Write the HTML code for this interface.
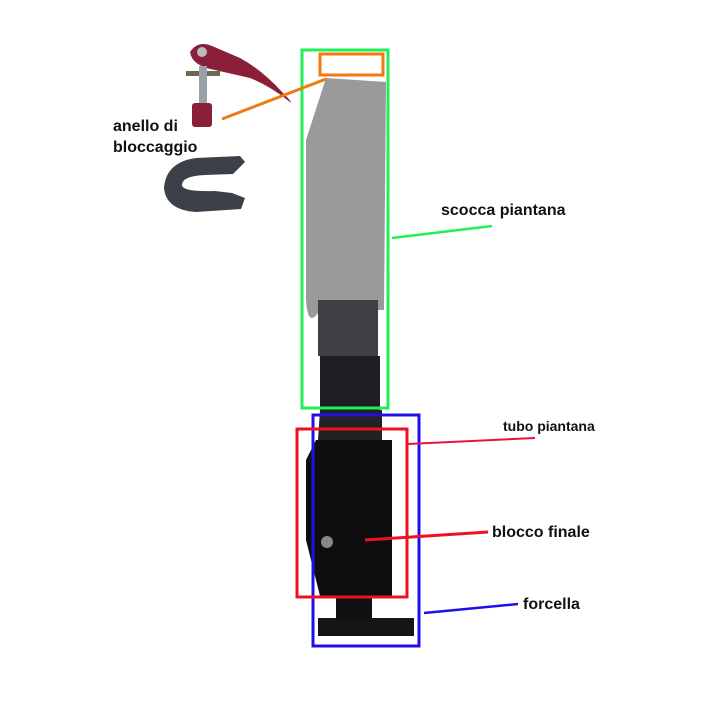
<!DOCTYPE html>
<html><head><style>
body{margin:0;background:#fff;}
svg{display:block;font-family:"Liberation Sans",Arial,sans-serif;font-weight:bold;}
</style></head><body>
<svg width="720" height="724" viewBox="0 0 720 724">
<!-- lever part -->
<path d="M190 52 Q198 40 212 46 L240 58 Q262 70 282 92 Q294 104 290 102 Q270 86 250 78 L215 70 Q192 66 190 52Z" fill="#8a1f3a"/>
<circle cx="202" cy="52" r="5" fill="#bbb"/>
<rect x="186" y="71" width="34" height="5" fill="#6a6a50"/>
<rect x="199" y="66" width="8" height="40" fill="#9aa0a8"/>
<rect x="192" y="103" width="20" height="24" rx="3" fill="#8a1f3a"/>
<!-- clamp -->
<path d="M196 158 Q166 162 164 188 Q166 210 196 212 L241 209 L245 198 L232 193 L215 191 Q182 192 182 185 Q182 176 205 175 L233 174 L245 162 L240 156 Z" fill="#3c4048"/>
<!-- top grey body -->
<path d="M326 78 L386 82 L384 310 L320 310 Q308 330 306 300 L306 140 Z" fill="#9a9a9a"/>
<rect x="318" y="300" width="60" height="56" fill="#3e4046"/>
<rect x="320" y="356" width="60" height="56" fill="#1e1f22"/>
<!-- lower black -->
<path d="M320 410 L382 410 L382 440 L318 440 Z" fill="#222"/>
<path d="M316 440 L392 440 L392 596 L320 596 L306 540 L306 460 Z" fill="#0e0e0e"/>
<rect x="336" y="596" width="36" height="22" fill="#111"/>
<rect x="318" y="618" width="96" height="18" fill="#151515"/>
<circle cx="327" cy="542" r="6" fill="#888"/>
<!-- boxes -->
<rect x="302" y="50" width="86" height="358" fill="none" stroke="#22ee55" stroke-width="3"/>
<rect x="320" y="54" width="63" height="21" fill="none" stroke="#f07a10" stroke-width="3"/>
<rect x="313" y="415" width="106" height="231" fill="none" stroke="#2010e8" stroke-width="3"/>
<rect x="297" y="429" width="110" height="168" fill="none" stroke="#f01020" stroke-width="3"/>
<!-- connectors -->
<line x1="222" y1="119" x2="326" y2="79" stroke="#f07a10" stroke-width="3"/>
<line x1="392" y1="238" x2="492" y2="226" stroke="#22ee55" stroke-width="2.5"/>
<line x1="408" y1="444" x2="535" y2="438" stroke="#f01040" stroke-width="2"/>
<line x1="365" y1="540" x2="488" y2="532" stroke="#f01020" stroke-width="3"/>
<line x1="424" y1="613" x2="518" y2="604" stroke="#2010e8" stroke-width="2.5"/>
<!-- labels -->
<text x="113" y="131" font-size="16" fill="#111">anello di</text>
<text x="113" y="152" font-size="16" fill="#111">bloccaggio</text>
<text x="441" y="215" font-size="16" fill="#111">scocca piantana</text>
<text x="503" y="431" font-size="14" fill="#111">tubo piantana</text>
<text x="492" y="537" font-size="16" fill="#111">blocco finale</text>
<text x="523" y="609" font-size="16" fill="#111">forcella</text>
</svg>
</body></html>
